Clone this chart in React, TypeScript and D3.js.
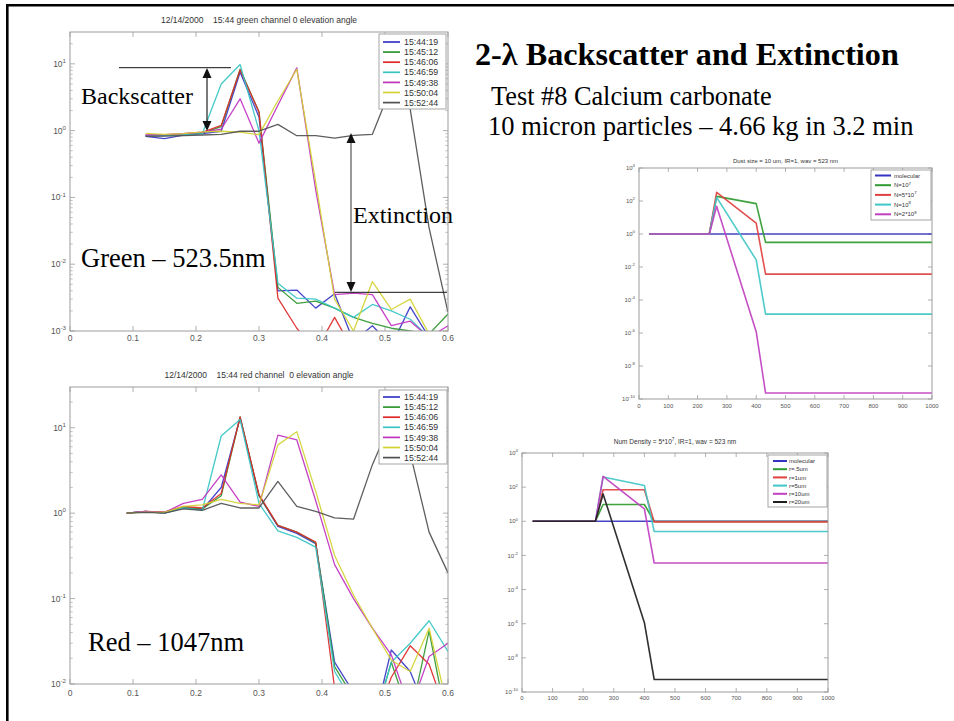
import React from "react";
import * as d3 from "d3";

// ---------------- Green channel (523.5 nm) returns ----------------
const greenRange = [0.12, 0.15, 0.18, 0.21, 0.24, 0.27, 0.3, 0.33, 0.36, 0.39, 0.42, 0.45, 0.48, 0.51, 0.54, 0.57, 0.6];
const scanTimes = ["15:44:19", "15:45:12", "15:46:06", "15:46:59", "15:49:38", "15:50:04", "15:52:44"];
const g154419 = [0.82, 0.76, 0.86, 0.9, 0.98, 7.5, 1.6, 0.004, 0.0041, 0.0022, 0.0036, 0.0007, 0.0012, 0.0006, 0.0023, 0.0008, 0.0009];
const g154512 = [0.84, 0.85, 0.87, 0.92, 1.15, 8.3, 1.9, 0.0045, 0.0026, 0.0028, 0.0022, 0.0016, 0.0013, 0.0011, 0.001, 0.0009, 0.0018];
const g154606 = [0.85, 0.86, 0.9, 0.94, 1.2, 8.1, 1.9, 0.0031, 0.0011, 0.0005, 0.0016, 0.0005, 0.0005, 0.0005, 0.0005, 0.0005, 0.0005];
const g154659 = [0.84, 0.84, 0.87, 0.9, 5, 9.8, 1.0, 0.0052, 0.0031, 0.003, 0.0022, 0.0016, 0.0025, 0.002, 0.0015, 0.0008, 0.0008];
const g154938 = [0.86, 0.87, 0.9, 0.95, 1.05, 3.0, 0.65, 2.4, 8.7, 0.13, 0.0035, 0.0037, 0.0035, 0.0012, 0.0014, 0.0008, 0.0012];
const g155004 = [0.91, 0.88, 0.9, 0.96, 0.98, 0.95, 0.87, 2.8, 8.3, 0.17, 0.003, 0.001, 0.0055, 0.0021, 0.003, 0.0009, 0.001];
const g155244 = [0.82, 0.83, 0.84, 0.86, 0.88, 0.98, 0.98, 1.24, 0.84, 0.84, 0.77, 0.85, 0.88, 4.5, 2.1, 0.035, 0.0019];

// ---------------- Red channel (1047 nm) returns ----------------
const redRange = [0.09, 0.12, 0.15, 0.18, 0.21, 0.24, 0.27, 0.3, 0.33, 0.36, 0.39, 0.42, 0.45, 0.48, 0.51, 0.54, 0.57, 0.6];
const r154419 = [1.0, 1.05, 1.0, 1.15, 1.1, 2.0, 13, 1.6, 0.7, 0.58, 0.44, 0.018, 0.008, 0.003, 0.025, 0.014, 0.004, 0.004];
const r154512 = [1.0, 1.04, 1.02, 1.18, 1.12, 1.6, 13.4, 1.6, 0.72, 0.6, 0.45, 0.016, 0.007, 0.003, 0.018, 0.004, 0.042, 0.003];
const r154606 = [1.0, 1.05, 1.03, 1.2, 1.15, 1.7, 13.4, 1.65, 0.72, 0.6, 0.46, 0.009, 0.004, 0.003, 0.012, 0.028, 0.017, 0.004];
const r154659 = [1.0, 1.04, 1.0, 1.15, 1.08, 8, 12.5, 1.3, 0.62, 0.52, 0.4, 0.014, 0.006, 0.003, 0.018, 0.03, 0.055, 0.024];
const r154938 = [1.0, 1.05, 1.02, 1.3, 1.45, 2.8, 1.35, 1.2, 8.2, 7.2, 1.4, 0.25, 0.1, 0.045, 0.022, 0.005, 0.021, 0.03];
const r155004 = [1.0, 1.03, 1.02, 1.2, 1.25, 1.45, 1.3, 1.25, 6.3, 9.0, 1.8, 0.32, 0.11, 0.045, 0.019, 0.014, 0.045, 0.005];
const r155244 = [1.0, 1.02, 1.0, 1.12, 1.08, 1.3, 1.15, 1.15, 2.35, 1.2, 1.05, 0.88, 0.85, 3.7, 12, 5, 0.6, 0.2];

// ---------------- Simulations ----------------
const simRange = [35, 240, 265, 400, 432, 1000];
const dustLabels = ["molecular", "N=10^7", "N=5*10^7", "N=10^8", "N=2*10^8"];
const dMolecular = [1, 1, 1, 1, 1, 1];
const dN1e7 = [1, 1, 190, 69, 0.31, 0.31];
const dN5e7 = [1, 1, 336, 4.6, 0.0037, 0.0037];
const dN1e8 = [1, 1, 166, 0.027, 1.4e-5, 1.4e-5];
const dN2e8 = [1, 1, 48, 1.2e-6, 2.3e-10, 2.3e-10];

const sizeLabels = ["molecular", "r=.5um", "r=1um", "r=5um", "r=10um", "r=20um"];
const sMolecular = [1, 1, 1, 1, 1, 1];
const sR05 = [1, 1, 9.6, 9.6, 0.97, 0.97];
const sR1 = [1, 1, 70, 70, 0.92, 0.92];
const sR5 = [1, 1, 390, 125, 0.25, 0.25];
const sR10 = [1, 1, 430, 5.4, 0.0036, 0.0036];
const sR20 = [1, 1, 40, 1.15e-6, 5.4e-10, 5.4e-10];

// ---------------- Ticks ----------------
const leftXTicks = [0, 0.1, 0.2, 0.3, 0.4, 0.5, 0.6];
const greenYExp = [-3, -2, -1, 0, 1];
const redYExp = [-2, -1, 0, 1];
const simXTicks = [0, 100, 200, 300, 400, 500, 600, 700, 800, 900, 1000];
const simYExp = [-10, -8, -6, -4, -2, 0, 2, 4];

const scanColors = ["#3636c8", "#2f962f", "#e02828", "#36c4c4", "#c032c0", "#d2d232", "#505050"];
const simColors = ["#3434c0", "#2f9a2f", "#e04040", "#40c6c6", "#c040c0", "#1e1e1e"];

const SANS = "'Liberation Sans', Arial, sans-serif";
const SERIF = "'Liberation Serif', 'Times New Roman', serif";
const NB = "\u00A0";

function SupText(props: { x: number; y: number; text: string; size: number; anchor?: string; fill?: string }) {
  const { x, y, text, size, anchor = "start", fill = "#444" } = props;
  const parts = text.split(/\^(-?\d+)/);
  const shift = size * 0.45;
  const nodes: React.ReactNode[] = [];
  let raised = false;
  parts.forEach((part, i) => {
    if (part === "") return;
    if (i % 2 === 1) {
      nodes.push(
        <tspan key={i} dy={-shift} fontSize={size * 0.72}>
          {part}
        </tspan>
      );
      raised = true;
    } else {
      nodes.push(
        <tspan key={i} dy={raised ? shift : 0}>
          {part}
        </tspan>
      );
      raised = false;
    }
  });
  return (
    <text x={x} y={y} fontSize={size} textAnchor={anchor} fill={fill} fontFamily={SANS}>
      {nodes}
    </text>
  );
}

type Series = { label: string; color: string; values: number[] };
type Legend = { x: number; y: number; w: number; h: number; row0: number; rowH: number; lx0: number; lx1: number; tx: number; size: number };

type PanelProps = {
  id: string;
  x0: number; x1: number; y0: number; y1: number;
  xDomain: [number, number];
  yDomain: [number, number];
  xs: number[];
  series: Series[];
  xTicks: number[];
  xFmt: (v: number) => string;
  yExps: number[];
  minor: boolean;
  title: string; titleY: number; titleSize: number;
  tickSize: number; xLabelY: number; yLabelGap: number;
  majorLen: number;
  lineWidth: number;
  legend: Legend;
};

function Panel(p: PanelProps) {
  const xs = d3.scaleLinear().domain(p.xDomain).range([p.x0, p.x1]);
  const ys = d3.scaleLog().domain(p.yDomain).range([p.y1, p.y0]);
  const axis = "#9c9c9c";
  const minors: number[] = [];
  if (p.minor) {
    const lo = Math.floor(Math.log10(p.yDomain[0]));
    const hi = Math.ceil(Math.log10(p.yDomain[1]));
    for (let e = lo; e <= hi; e++) {
      for (let m = 2; m <= 9; m++) {
        const v = m * Math.pow(10, e);
        if (v > p.yDomain[0] && v < p.yDomain[1]) minors.push(v);
      }
    }
  }
  const L = p.legend;
  return (
    <g>
      <defs>
        <clipPath id={p.id}>
          <rect x={p.x0} y={p.y0} width={p.x1 - p.x0} height={p.y1 - p.y0} />
        </clipPath>
      </defs>
      <SupText x={(p.x0 + p.x1) / 2} y={p.titleY} text={p.title} size={p.titleSize} anchor="middle" fill="#333" />
      {p.xTicks.map((t) => (
        <g key={"xt" + t}>
          <line x1={xs(t)} x2={xs(t)} y1={p.y1} y2={p.y1 - p.majorLen} stroke={axis} strokeWidth={0.8} />
          <line x1={xs(t)} x2={xs(t)} y1={p.y0} y2={p.y0 + p.majorLen} stroke={axis} strokeWidth={0.8} />
          <text x={xs(t)} y={p.xLabelY} fontSize={p.tickSize} textAnchor="middle" fill="#555" fontFamily={SANS}>
            {p.xFmt(t)}
          </text>
        </g>
      ))}
      {p.yExps.map((e) => {
        const y = ys(Math.pow(10, e));
        return (
          <g key={"yt" + e}>
            <line x1={p.x0} x2={p.x0 + p.majorLen} y1={y} y2={y} stroke={axis} strokeWidth={0.8} />
            <line x1={p.x1} x2={p.x1 - p.majorLen} y1={y} y2={y} stroke={axis} strokeWidth={0.8} />
            <SupText x={p.x0 - p.yLabelGap} y={y + p.tickSize * 0.35} text={"10^" + e} size={p.tickSize} anchor="end" fill="#555" />
          </g>
        );
      })}
      {minors.map((v, i) => (
        <g key={"mn" + i}>
          <line x1={p.x0} x2={p.x0 + p.majorLen * 0.55} y1={ys(v)} y2={ys(v)} stroke={axis} strokeWidth={0.6} />
          <line x1={p.x1} x2={p.x1 - p.majorLen * 0.55} y1={ys(v)} y2={ys(v)} stroke={axis} strokeWidth={0.6} />
        </g>
      ))}
      <g clipPath={`url(#${p.id})`}>
        {p.series.map((s) => {
          const path = d3
            .line<number>()
            .x((_, i) => xs(p.xs[i]))
            .y((d) => ys(d))(s.values);
          return (
            <path key={s.label} d={path || ""} fill="none" stroke={s.color} strokeWidth={p.lineWidth} strokeLinejoin="round" strokeOpacity={0.92} />
          );
        })}
      </g>
      <rect x={p.x0} y={p.y0} width={p.x1 - p.x0} height={p.y1 - p.y0} fill="none" stroke={axis} strokeWidth={1} />
      <rect x={L.x} y={L.y} width={L.w} height={L.h} fill="white" stroke={axis} strokeWidth={0.9} />
      {p.series.map((s, i) => {
        const y = L.row0 + i * L.rowH;
        return (
          <g key={"lg" + s.label}>
            <line x1={L.lx0} x2={L.lx1} y1={y} y2={y} stroke={s.color} strokeWidth={p.lineWidth + 0.4} />
            <SupText x={L.tx} y={y + L.size * 0.36} text={s.label} size={L.size} fill="#333" />
          </g>
        );
      })}
    </g>
  );
}

function Arrow(props: { x: number; yTop: number; yBot: number; color: string }) {
  const { x, yTop, yBot, color } = props;
  const hw = 4.5;
  const hh = 10;
  return (
    <g>
      <line x1={x} x2={x} y1={yTop + hh - 1} y2={yBot - hh + 1} stroke={color} strokeWidth={1.2} />
      <polygon points={`${x},${yTop} ${x - hw},${yTop + hh} ${x + hw},${yTop + hh}`} fill="#111" />
      <polygon points={`${x},${yBot} ${x - hw},${yBot - hh} ${x + hw},${yBot - hh}`} fill="#111" />
    </g>
  );
}

const fmt1 = (v: number) => (v === 0 ? "0" : d3.format(".1f")(v));
const fmt0 = (v: number) => String(v);

export default function App() {
  const greenSeries: Series[] = [g154419, g154512, g154606, g154659, g154938, g155004, g155244].map((v, i) => ({
    label: scanTimes[i], color: scanColors[i], values: v,
  }));
  const redSeries: Series[] = [r154419, r154512, r154606, r154659, r154938, r155004, r155244].map((v, i) => ({
    label: scanTimes[i], color: scanColors[i], values: v,
  }));
  const dustSeries: Series[] = [dMolecular, dN1e7, dN5e7, dN1e8, dN2e8].map((v, i) => ({
    label: dustLabels[i], color: simColors[i], values: v,
  }));
  const sizeSeries: Series[] = [sMolecular, sR05, sR1, sR5, sR10, sR20].map((v, i) => ({
    label: sizeLabels[i], color: simColors[i], values: v,
  }));

  return (
    <svg width={954} height={721} style={{ position: "absolute", left: 0, top: 0, background: "white" }}>
      <rect x={0} y={0} width={954} height={721} fill="white" />
      <line x1={7.3} x2={7.3} y1={5.3} y2={721} stroke="#000" strokeWidth={2.6} />
      <line x1={6} x2={954} y1={5.3} y2={5.3} stroke="#000" strokeWidth={2.6} />

      <Panel
        id="cg"
        x0={70} x1={448} y0={32} y1={331}
        xDomain={[0, 0.6]} yDomain={[0.001, 30]}
        xs={greenRange} series={greenSeries}
        xTicks={leftXTicks} xFmt={fmt1} yExps={greenYExp} minor={true}
        title={`12/14/2000${NB}${NB}${NB}${NB}15:44 green channel 0 elevation angle`} titleY={23} titleSize={8.5}
        tickSize={8.5} xLabelY={341} yLabelGap={4} majorLen={5} lineWidth={1.3}
        legend={{ x: 379, y: 34, w: 67, h: 75, row0: 42, rowH: 10.1, lx0: 383, lx1: 400, tx: 404, size: 8.8 }}
      />
      <Panel
        id="cr"
        x0={70} x1={448} y0={387} y1={684}
        xDomain={[0, 0.6]} yDomain={[0.01, 30]}
        xs={redRange} series={redSeries}
        xTicks={leftXTicks} xFmt={fmt1} yExps={redYExp} minor={true}
        title={`12/14/2000${NB}${NB}${NB}${NB}15:44 red channel${NB}${NB}0 elevation angle`} titleY={378} titleSize={8.5}
        tickSize={8.5} xLabelY={696} yLabelGap={4} majorLen={5} lineWidth={1.3}
        legend={{ x: 379, y: 390, w: 68, h: 74, row0: 397, rowH: 10.1, lx0: 383, lx1: 400, tx: 404, size: 8.8 }}
      />
      <Panel
        id="cd"
        x0={639} x1={932} y0={168} y1={399}
        xDomain={[0, 1000]} yDomain={[1e-10, 1e4]}
        xs={simRange} series={dustSeries}
        xTicks={simXTicks} xFmt={fmt0} yExps={simYExp} minor={false}
        title="Dust size = 10 um, IR=1, wav = 523 nm" titleY={163} titleSize={6}
        tickSize={6} xLabelY={408} yLabelGap={4} majorLen={4} lineWidth={1.6}
        legend={{ x: 871, y: 170, w: 60, h: 50, row0: 175.5, rowH: 9.7, lx0: 875, lx1: 891, tx: 894, size: 6 }}
      />
      <Panel
        id="cs"
        x0={522} x1={828} y0={453} y1={692}
        xDomain={[0, 1000]} yDomain={[1e-10, 1e4]}
        xs={simRange} series={sizeSeries}
        xTicks={simXTicks} xFmt={fmt0} yExps={simYExp} minor={false}
        title="Num Density = 5*10^7, IR=1, wav = 523 nm" titleY={444} titleSize={6.5}
        tickSize={6} xLabelY={700} yLabelGap={4} majorLen={4} lineWidth={1.6}
        legend={{ x: 768, y: 455, w: 59, h: 52, row0: 461, rowH: 8.2, lx0: 773, lx1: 787, tx: 789, size: 6 }}
      />

      {/* annotations */}
      <line x1={119} x2={231} y1={67.7} y2={67.7} stroke="#111" strokeWidth={1} />
      <Arrow x={207} yTop={68} yBot={131} color="#222" />
      <Arrow x={351} yTop={133} yBot={292} color="#555" />
      <line x1={335} x2={447} y1={292.3} y2={292.3} stroke="#111" strokeWidth={1} />

      <text x={81} y={104} fontSize={24} fontFamily={SERIF} fill="#000">Backscatter</text>
      <text x={353} y={223} fontSize={24} fontFamily={SERIF} fill="#000">Extinction</text>
      <text x={81} y={267} fontSize={26.5} fontFamily={SERIF} fill="#000">Green – 523.5nm</text>
      <text x={88} y={651} fontSize={26.5} fontFamily={SERIF} fill="#000">Red – 1047nm</text>

      <text x={475} y={65} fontSize={32.2} fontWeight="bold" fontFamily={SERIF} fill="#000">2-λ Backscatter and Extinction</text>
      <text x={491} y={105} fontSize={26.3} fontFamily={SERIF} fill="#000">Test #8 Calcium carbonate</text>
      <text x={488} y={135} fontSize={26.5} fontFamily={SERIF} fill="#000">10 micron particles – 4.66 kg in 3.2 min</text>
    </svg>
  );
}
